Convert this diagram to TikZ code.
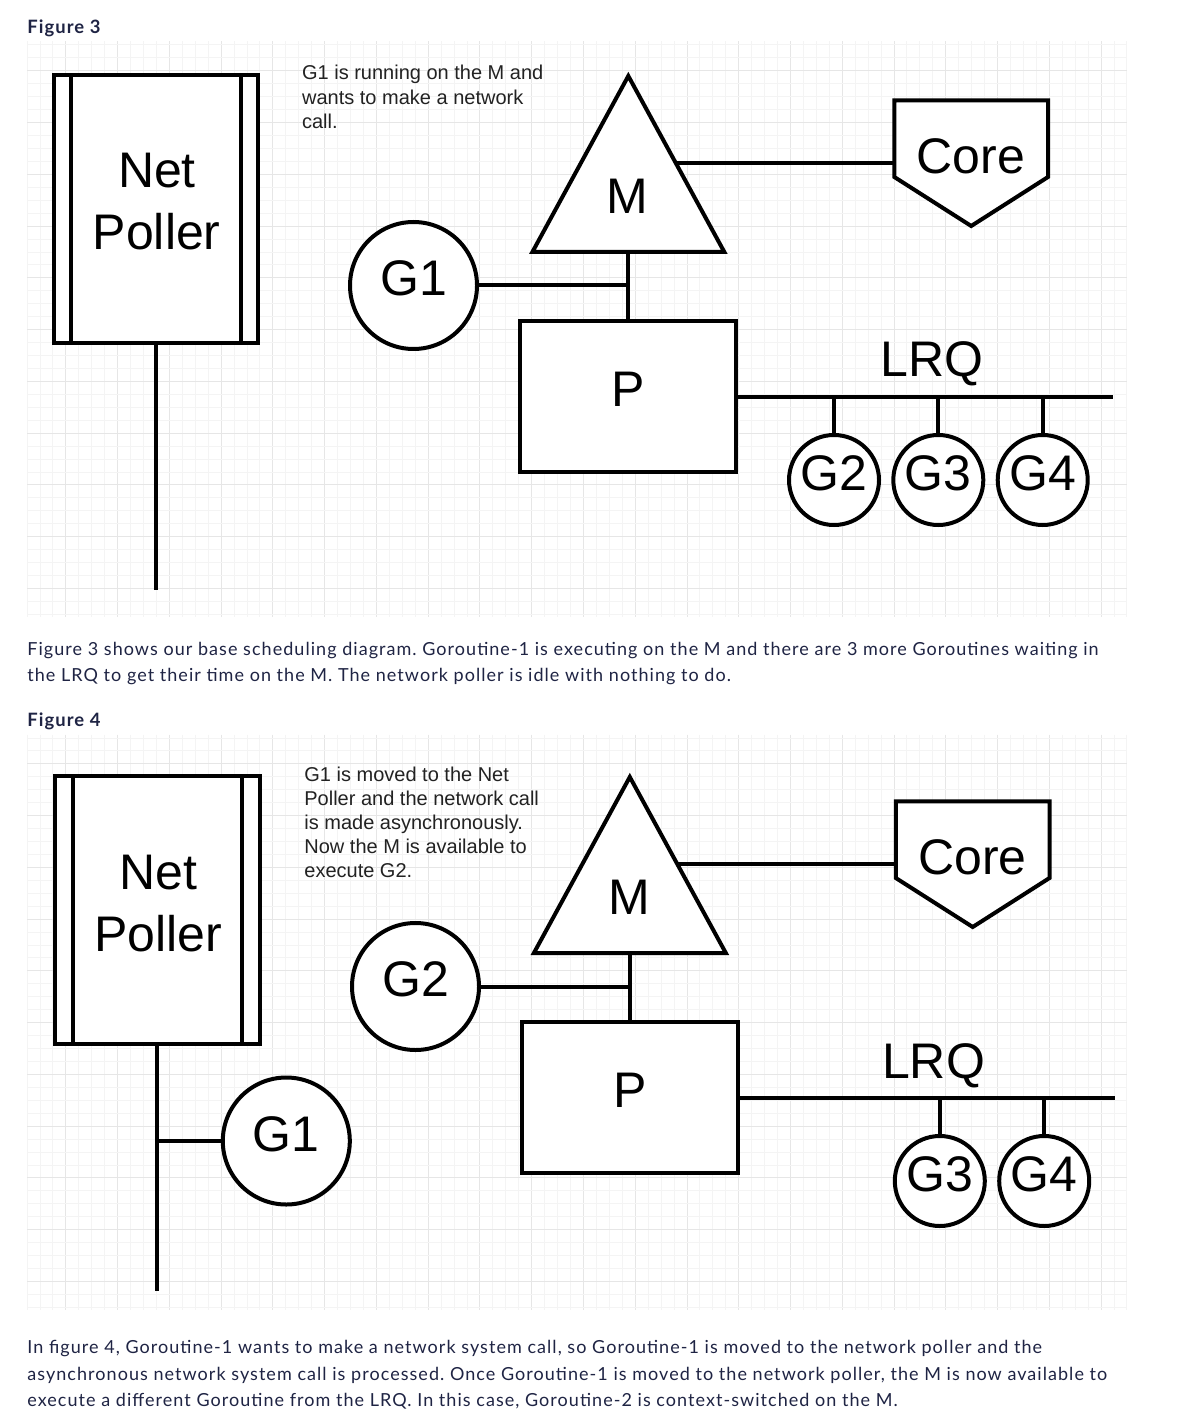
\documentclass[tikz,border=0pt]{standalone}
\usepackage{fontspec}
\setmainfont{Liberation Sans}
\newfontfamily\latofont[LetterSpace=5.8]{Lato}
\frenchspacing
\definecolor{navy}{HTML}{1F2444}
\definecolor{gridminor}{HTML}{F4F4F4}
\definecolor{gridmajor}{HTML}{E6E6E6}
\definecolor{notecol}{HTML}{222222}
\tikzset{
  shapeline/.style={draw=black, line width=2pt, line join=miter, fill=white},
  conn/.style={draw=black, line width=2pt},
  boxshape/.style={rectangle, draw=black, line width=2pt, fill=white, inner sep=0pt},
  bigfont/.style={font=\fontsize{25}{30}\selectfont, text height=17.9pt, text depth=7.9pt},
  gcircle/.style={circle, draw=black, line width=2pt, fill=white, inner sep=0pt, minimum size=#1, bigfont},
  biglabel/.style={font=\fontsize{25}{30}\selectfont, inner sep=0pt, anchor=base},
  noteline/.style={font=\fontsize{10}{11.6}\selectfont, text=notecol, inner sep=0pt, anchor=base west},
  bodyline/.style={font=\latofont\fontsize{9}{13.4}\selectfont\frenchspacing, text=navy, inner sep=0pt, anchor=base west},
  headline/.style={font=\latofont\bfseries\fontsize{9.2}{11}\selectfont, text=navy, inner sep=0pt, anchor=base west},
}
\newcommand{\bggrid}[1]{%
  \foreach \k in {-1,...,84}{%
    \pgfmathtruncatemacro\km{mod(\k+8,4)}%
    \ifnum\km=2 \def\gcol{gridmajor}\else\def\gcol{gridminor}\fi
    \draw[draw=\gcol, line width=0.5pt] ({40+12.94*\k},{41.5+#1}) -- ({40+12.94*\k},{617+#1});
  }%
  \foreach \k in {0,...,44}{%
    \pgfmathtruncatemacro\km{mod(\k+8,4)}%
    \ifnum\km=2 \def\gcol{gridmajor}\else\def\gcol{gridminor}\fi
    \draw[draw=\gcol, line width=0.5pt] (27,{45+12.94*\k+#1}) -- (1127,{45+12.94*\k+#1});
  }%
}
\newcommand{\pollerbox}{%
  \node[boxshape, minimum width=102.15pt, minimum height=133.85pt] (np) at (155.85,209.15) {};
  \draw[conn] (np.north west) ++(19.6,0) -- ++(0,267.7);
  \draw[conn] (np.north east) ++(-19.5,0) -- ++(0,267.7);
  \node[biglabel] (npa) at (157,188) {Net};
  \node[biglabel] (npb) at (156.7,250) {Poller};
  \coordinate (npend) at (155.85,590);
  \draw[conn] (np.south) -- (npend);
}
\newcommand{\mpcore}{%
  \coordinate (ma) at (628.3,76);
  \coordinate (ml) at (532.4,252);
  \coordinate (mr) at (724.3,252);
  \draw[shapeline] (ma) -- (ml) -- (mr) -- cycle;
  \node[biglabel] (m) at (627.5,213.3) {M};
  \coordinate (me) at (675.8,163);
  \coordinate (mb) at (628.3,252);
  \draw[shapeline] (894.3,100.3) -- (1048,100.3) -- (1048,177) -- (971.2,226) -- (894.3,177) -- cycle;
  \node[biglabel] (core) at (970.8,173.5) {Core};
  \coordinate (corew) at (894.3,163);
  \draw[conn] (me) -- (corew);
  \node[boxshape, minimum width=108pt, minimum height=75.5pt, bigfont] (p) at (628.3,396.8) {P};
  \draw[conn] (mb) -- (p.north);
  \coordinate (gj) at (628.3,285.5);
  \node[biglabel] (lrq) at (932,377) {LRQ};
  \coordinate (lrqend) at (1113,396.8);
  \draw[conn] (p.east) -- (lrqend);
}
\begin{document}
\begin{tikzpicture}[x=0.5pt,y=-0.5pt]
\useasboundingbox[fill=white] (0,0) rectangle (1183,1422);
\bggrid{0}
\bggrid{693}
\node[headline] (h3) at (27,33.3) {Figure 3};
\begin{scope}[name prefix=f3-]
  \pollerbox
  \node[noteline] (n1) at (301.7,80) {G1 is running on the M and};
  \node[noteline] (n2) at (301.7,104.2) {wants to make a network};
  \node[noteline] (n3) at (301.7,128.4) {call.};
  \mpcore
  \node[gcircle=63.5pt] (g1) at (413.5,285.5) {G1};
  \draw[conn] (g1.east) -- (gj);
  \foreach \n/\x in {2/834,3/938.3,4/1042.7}{
    \node[gcircle=45pt] (g\n) at (\x,480) {G\n};
    \coordinate (b\n) at (\x,396.8);
    \draw[conn] (b\n) -- (g\n.north);
  }
\end{scope}
\node[bodyline] (t1) at (27,655) {Figure 3 shows our base scheduling diagram. Goroutine-1 is executing on the M and there are 3 more Goroutines waiting in};
\node[bodyline] (t2) at (27,681.7) {the LRQ to get their time on the M. The network poller is idle with nothing to do.};
\node[headline] (h4) at (27,726) {Figure 4};
\begin{scope}[shift={(1.5,701)}, name prefix=f4-]
  \pollerbox
  \node[noteline] (n1) at (302.5,80) {G1 is moved to the Net};
  \node[noteline] (n2) at (302.5,104.2) {Poller and the network call};
  \node[noteline] (n3) at (302.5,128.4) {is made asynchronously.};
  \node[noteline] (n4) at (302.5,152.6) {Now the M is available to};
  \node[noteline] (n5) at (302.5,176.8) {execute G2.};
  \mpcore
  \node[gcircle=63.5pt] (g2) at (414,285.5) {G2};
  \draw[conn] (g2.east) -- (gj);
  \foreach \n/\x in {3/938.3,4/1042.7}{
    \node[gcircle=45pt] (g\n) at (\x,480) {G\n};
    \coordinate (b\n) at (\x,396.8);
    \draw[conn] (b\n) -- (g\n.north);
  }
  \node[gcircle=63.5pt] (g1) at (284.8,440) {G1};
  \coordinate (pj) at (155.85,440);
  \draw[conn] (pj) -- (g1.west);
\end{scope}
\node[bodyline] (t3) at (27,1353.3) {In figure 4, Goroutine-1 wants to make a network system call, so Goroutine-1 is moved to the network poller and the};
\node[bodyline] (t4) at (27,1380) {asynchronous network system call is processed. Once Goroutine-1 is moved to the network poller, the M is now available to};
\node[bodyline] (t5) at (27,1406.7) {execute a different Goroutine from the LRQ. In this case, Goroutine-2 is context-switched on the M.};
\end{tikzpicture}
\end{document}
